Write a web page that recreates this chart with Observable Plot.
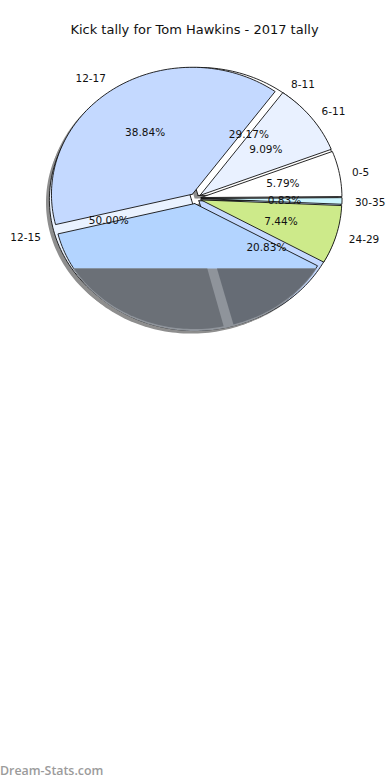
<!DOCTYPE html>
<html><head><meta charset="utf-8">
<script src="https://cdn.jsdelivr.net/npm/d3@7"></script>
<script src="https://cdn.jsdelivr.net/npm/@observablehq/plot@0.6"></script>
<style>
html,body{margin:0;padding:0;background:#fff;width:390px;height:780px;overflow:hidden}
#wrap{position:relative;width:390px;height:780px}
#title{position:absolute;left:0;top:22px;width:389px;text-align:center;font:13px "DejaVu Sans",sans-serif;color:#111;white-space:nowrap;line-height:16px}
#chart{position:absolute;left:0;top:0}
#foot{position:absolute;left:0;top:762px;font:600 12.4px "Open Sans",sans-serif;color:#9b9b9b;white-space:nowrap;line-height:17px}
</style></head><body>
<div id="wrap"><div id="chart"></div>
<div id="title">Kick tally for Tom Hawkins - 2017 tally</div>
<div id="foot">Dream-Stats.com</div></div>
<script>
// Rear pie
const rearLabels = ["12-15", "", "8-11"];
const rearPct = [50.00, 20.83, 29.17];
const rearColors = ["#eaf2ff", "#c4d9ff", "#ffffff"];
const rearStart = 105.5;
const rearPctText = ["50.00%", "20.83%", "29.17%"];

// Front pie
const frontLabels = ["12-17", "", "24-29", "30-35", "0-5", "6-11"];
const frontPct = [38.84, 38.01, 7.44, 0.83, 5.79, 9.09];
const frontColors = ["#c4d9ff", "#b3d4ff", "#cdea8a", "#ccf6ff", "#ffffff", "#e9f1ff"];
const frontStart = 54;
const frontPctText = ["38.84%", "", "7.44%", "0.83%", "5.79%", "9.09%"];

// Grey band over the lower part of the pie
const maskLevel = -0.547;
const maskSplitLeft = 281.8;
const maskSplitRight = 285.5;
const maskColors = ["#6b7077", "#666c75"];
const maskBase = "#8f949b";

const cx = 195, cy = 198, rx = 142, ry = 128, H = 780, W = 390;
const ex = 0.03, exFront = 0.04, kFront = 0.992;
const rad = d => d * Math.PI / 180;

function slices(pcts, start) {
  const total = d3.sum(pcts);
  let a = start;
  return pcts.map(p => {
    const a0 = a, a1 = a + p / total * 360;
    a = a1;
    return {a0, a1, mid: (a0 + a1) / 2};
  });
}
function wedge(a0, a1, e, dx = 0, dy = 0, apexDx = 0, k = 1) {
  const mid = (a0 + a1) / 2;
  const ox = e * Math.cos(rad(mid)) + dx, oy = e * Math.sin(rad(mid)) + dy;
  const n = Math.max(2, Math.ceil(Math.abs(a1 - a0) / 1.5));
  const pts = [{x: ox + apexDx, y: oy}];
  for (const t of d3.range(n + 1)) {
    const a = a0 + (a1 - a0) * t / n;
    pts.push({x: ox + k * Math.cos(rad(a)), y: oy + k * Math.sin(rad(a))});
  }
  pts.push({x: ox + apexDx, y: oy});
  return pts;
}
function below(pts, level) {
  const out = [];
  for (let i = 0; i < pts.length - 1; i++) {
    const p = pts[i], q = pts[i + 1];
    const pIn = p.y < level, qIn = q.y < level;
    if (pIn) out.push(p);
    if (pIn !== qIn) {
      const t = (level - p.y) / (q.y - p.y);
      out.push({x: p.x + (q.x - p.x) * t, y: level});
    }
  }
  if (out.length) out.push(out[0]);
  return out;
}
const rear = slices(rearPct, rearStart);
const front = slices(frontPct, frontStart);

const poly = (pts, o) => Plot.line(pts, {x: "x", y: "y", curve: "linear", strokeLinejoin: "round", ...o});
const marks = [];

// shadow
for (const s of rear) marks.push(poly(wedge(s.a0, s.a1, ex, -0.024, -0.024), {fill: "#8e8e8e", stroke: "none"}));
for (const s of front) marks.push(poly(wedge(s.a0, s.a1, exFront, -0.024, -0.024, 0, kFront), {fill: "#8e8e8e", stroke: "none"}));
rear.forEach((s, i) => marks.push(poly(wedge(s.a0, s.a1, ex), {fill: rearColors[i], stroke: "#111", strokeWidth: 0.9})));
front.forEach((s, i) => marks.push(poly(wedge(s.a0, s.a1, exFront, 0, 0, 0, kFront), {fill: frontColors[i], stroke: "#111", strokeWidth: 0.9})));

// grey band
const lower = front[1];
marks.push(poly(below(wedge(lower.a0, lower.a1, ex, 0, -0.005), maskLevel), {fill: maskBase, stroke: "none"}));
marks.push(poly(below(wedge(lower.a0, maskSplitLeft, 0, -0.006, -0.02, -0.046), maskLevel), {fill: maskColors[0], stroke: "none"}));
marks.push(poly(below(wedge(maskSplitRight, lower.a1, 0, 0, -0.02, 0.011), maskLevel), {fill: maskColors[1], stroke: "none"}));

// texts
const pctRows = [], labelRows = [];
const add = (arr, lab, pct) => arr.forEach((s, i) => {
  const c = Math.cos(rad(s.mid)), n = Math.sin(rad(s.mid));
  if (pct[i]) pctRows.push({x: c * (0.6 + ex), y: n * (0.6 + ex), t: pct[i]});
  if (lab[i]) labelRows.push({x: c * (1.1 + ex), y: n * (1.1 + ex), t: lab[i], anchor: c < 0 ? "end" : "start"});
});
add(rear, rearLabels, rearPctText);
add(front, frontLabels, frontPctText);
const txt = {fontFamily: "DejaVu Sans", fontSize: 10.5, fill: "#111"};
marks.push(Plot.text(pctRows, {x: "x", y: "y", text: "t", dy: 0.7, dx: -0.5, ...txt}));
marks.push(Plot.text(labelRows.filter(d => d.anchor === "end"), {x: "x", y: "y", text: "t", textAnchor: "end", ...txt}));
marks.push(Plot.text(labelRows.filter(d => d.anchor === "start"), {x: "x", y: "y", text: "t", textAnchor: "start", dx: -1, dy: 1.5, ...txt}));

const chart = Plot.plot({
  width: W, height: H, margin: 0,
  style: {background: "transparent"},
  x: {domain: [-cx / rx, (W - cx) / rx], range: [0, W], axis: null},
  y: {domain: [cy / ry, -(H - cy) / ry], range: [0, H], axis: null},
  marks
});
document.getElementById("chart").appendChild(chart);
</script>
</body></html>
